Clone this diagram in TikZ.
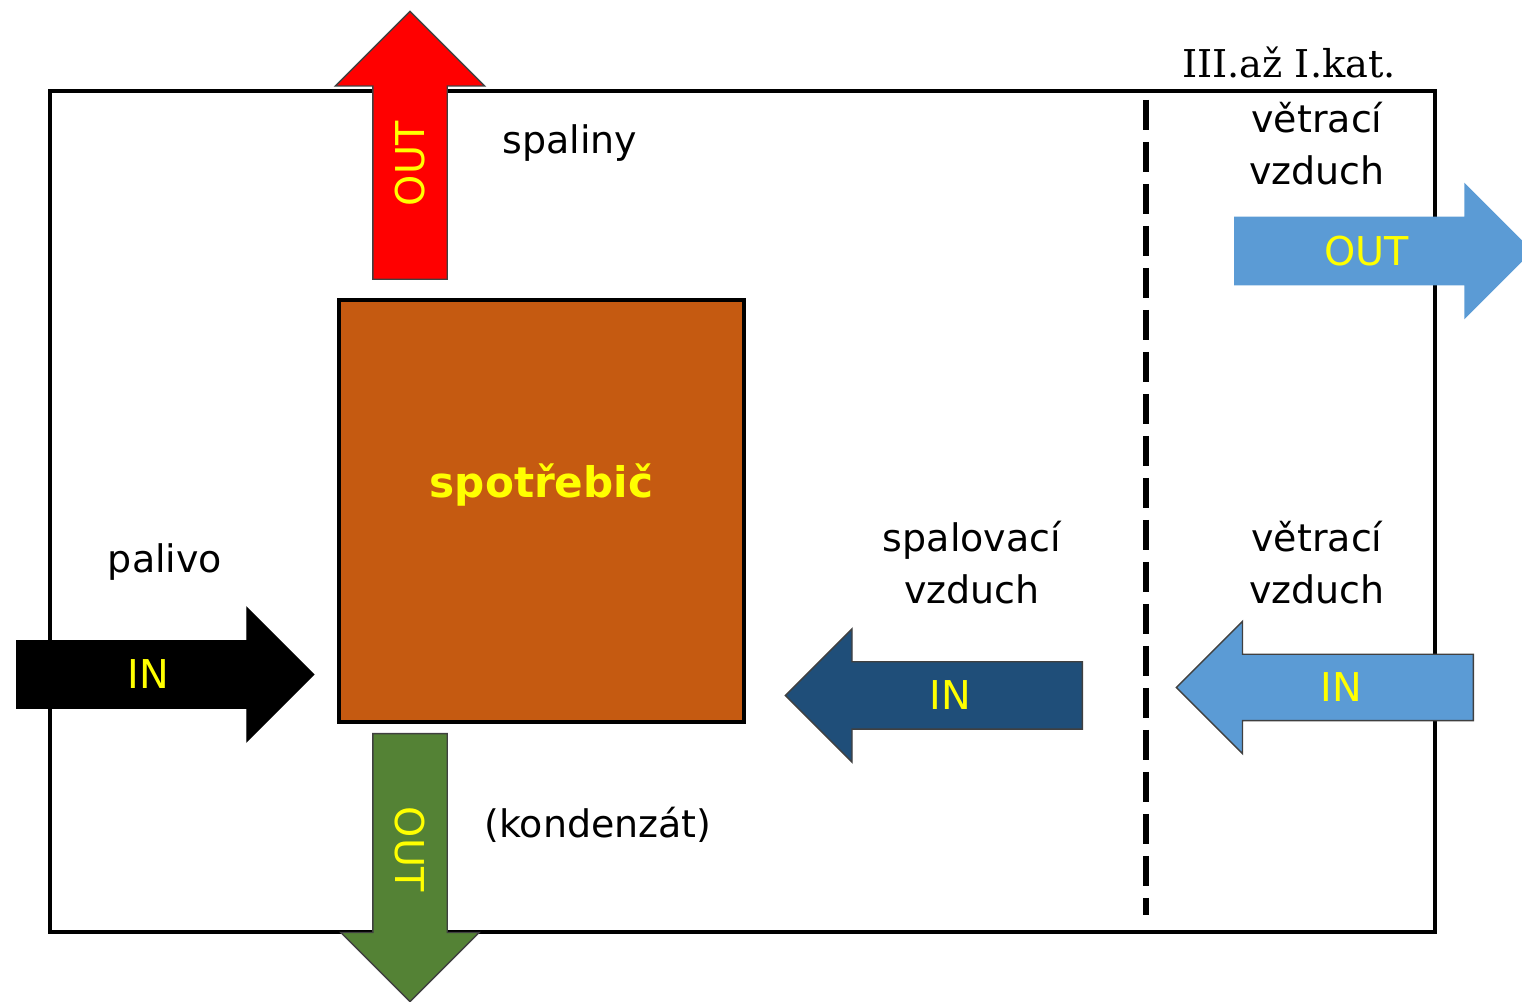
\documentclass[tikz,border=0pt]{standalone}
\usepackage{fontspec}
\setmainfont{DejaVu Sans}
\newfontfamily\katfont{DejaVu Serif}
\usetikzlibrary{shapes.arrows}
\definecolor{mred}{HTML}{FF0000}
\definecolor{mgreen}{HTML}{548235}
\definecolor{morange}{HTML}{C55A11}
\definecolor{mnavy}{HTML}{1F4E79}
\definecolor{msky}{HTML}{5B9BD5}
\definecolor{myellow}{HTML}{FFFF00}
\tikzset{
  flow/.style = {single arrow, anchor=tail, inner xsep=0pt, inner ysep=1.85mm,
    text height=2.9mm, text depth=0pt, single arrow head extend=3.3mm,
    minimum height=29.7mm, draw=black!75, line width=0.4pt,
    text=myellow, font=\fontsize{11.3}{13}\selectfont},
  upright/.style = {inner ysep=2.2mm, minimum height=26.8mm},
  tag/.style = {align=center, font=\fontsize{10.8}{14.8}\selectfont},
  appliance/.style = {draw, line width=1.4pt, fill=morange,
    minimum width=40.5mm, minimum height=42.2mm}
}
\begin{document}
\begin{tikzpicture}[x=0.1mm, y=-0.1mm]
  \useasboundingbox (0,0) rectangle (1522,1002);

  % room and category border
  \draw [line width=1.15pt] (50,91) rectangle (1435,932);
  \draw [line width=1.7pt, dash pattern=on 3mm off 1.2mm] (1146,100) -- (1146,915);

  \node (spotrebic) [appliance,
    label={[yshift=2.6mm, text=myellow, font=\fontsize{12}{14}\selectfont\bfseries]center:spotřebič}]
    at (541.5,511) {};

  % flows
  \node (spaliny) [flow, upright, rotate=90, single arrow head extend=3.75mm, fill=mred] at (410,280) {OUT};
  \node (kondenzat) [flow, upright, rotate=-90, single arrow head extend=3.2mm, fill=mgreen] at (410,733) {OUT};
  \node (palivo) [flow, fill=black, draw=black] at (16,674.5) {IN};
  \node (spalovaci) [flow, shape border rotate=180, fill=mnavy] at (1083,695.5) {IN};
  \node (vetraciin) [flow, shape border rotate=180, inner ysep=1.8mm, fill=msky] at (1474,687.5) {IN};
  \node (vetraciout) [flow, fill=msky, draw=msky] at (1234,251) {OUT};

  % texts
  \node (tspaliny) [tag] at (570,143) {spaliny};
  \node (tpalivo) [tag] at (165,562) {palivo};
  \node (tspalovaci) [tag] at (972,563) {spalovací\\vzduch};
  \node (tvetraciin) [tag] at (1317,563) {větrací\\vzduch};
  \node (tvetraciout) [tag] at (1317,144) {větrací\\vzduch};
  \node (tkondenzat) [tag] at (598,825) {(kondenzát)};
  \node (tkat) [tag, font=\katfont\fontsize{10.9}{13}\selectfont] at (1289,62) {III.až I.kat.};
\end{tikzpicture}
\end{document}
